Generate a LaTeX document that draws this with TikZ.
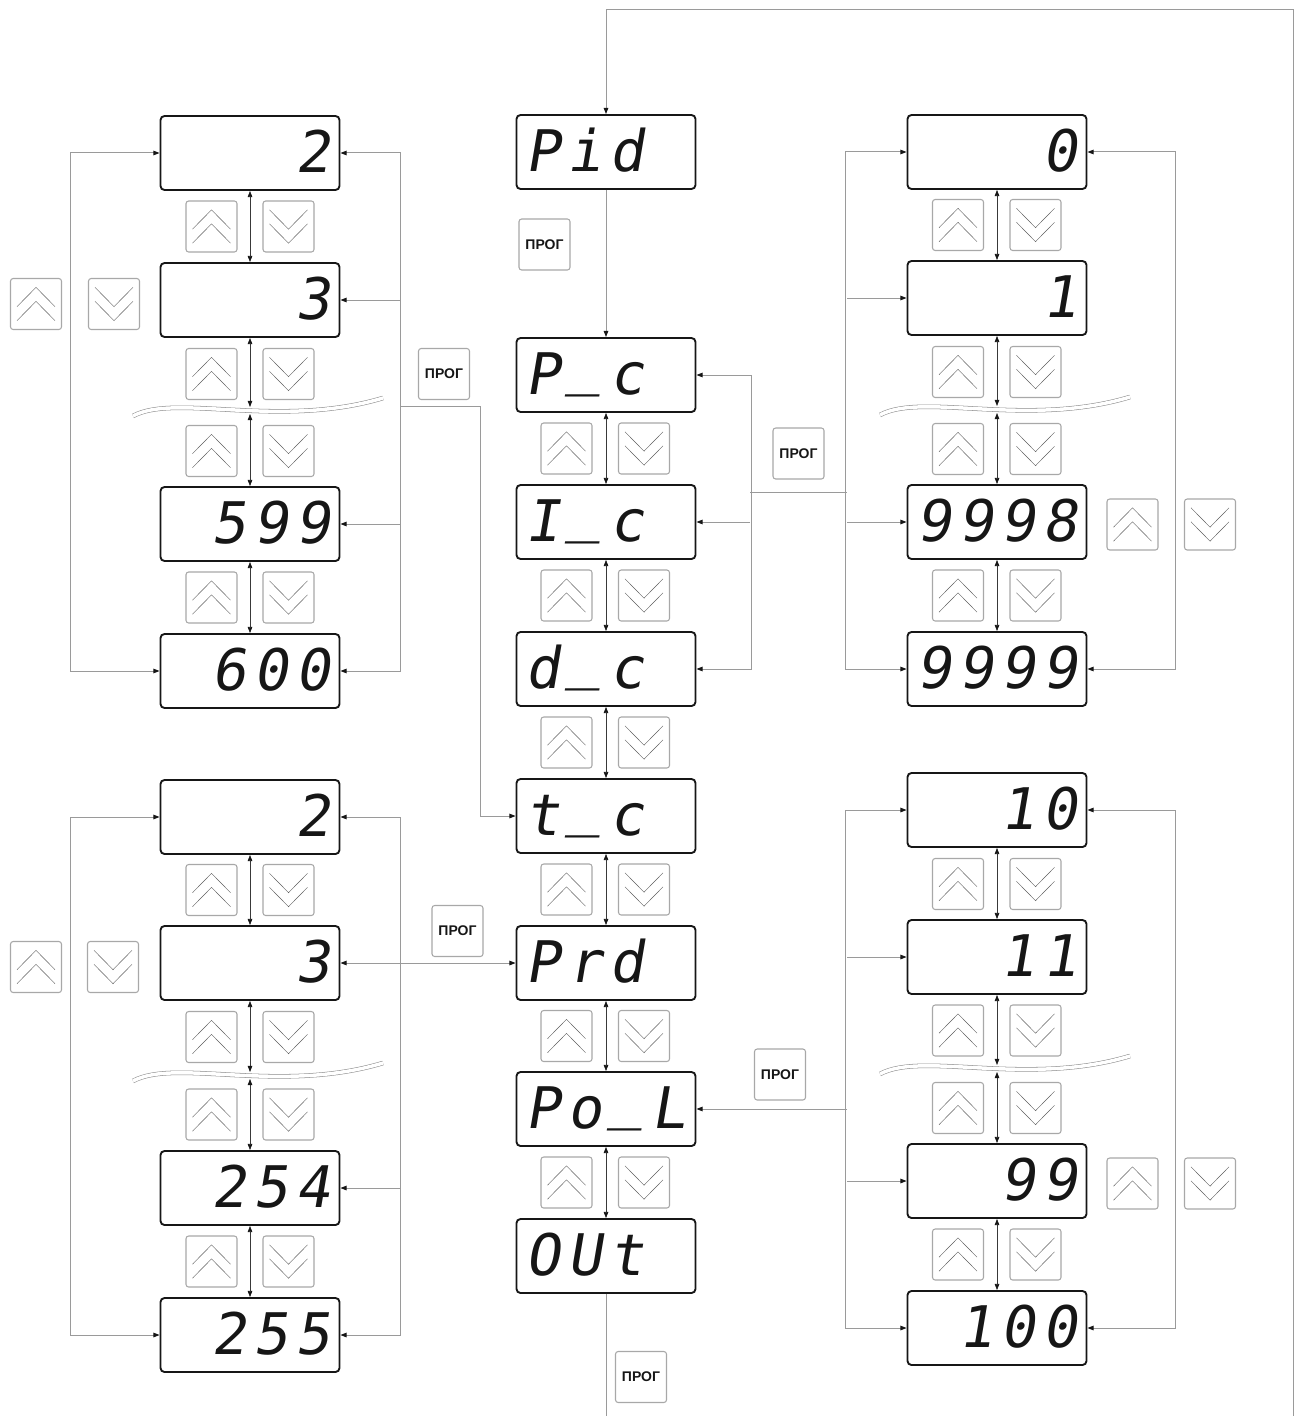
\documentclass[tikz,border=0pt]{standalone}
\usepackage{fontspec}
\usepackage{tikz}
\usetikzlibrary{calc,positioning,arrows.meta}
\newfontfamily\lcdfont{DejaVu Sans Mono}[FakeSlant=0.17]
\newfontfamily\keyfont{Liberation Sans}
\definecolor{Wire}{HTML}{9A9A9A}
\definecolor{Keyline}{HTML}{A8A8A8}
\definecolor{Ink}{HTML}{161616}
\newcommand\lcdtext[4]{\makebox[31.5pt]{#1}\makebox[31.5pt]{#2}\makebox[31.5pt]{#3}\makebox[31.5pt]{#4}}
\newcommand\lowbar{\raisebox{8.5pt}{\_}}
\tikzset{
  Arr/.tip={Triangle[length=4.6pt,width=3.4pt,color=Ink]},
  lcd/.style={draw=Ink,line width=1.4pt,rounded corners=3pt,minimum width=134.25pt,minimum height=55.5pt,
    inner sep=0pt,text height=32pt,text depth=3pt,text=Ink,font=\lcdfont\fontsize{43}{43}\selectfont},
  key/.style={draw=Keyline,line width=.8pt,rounded corners=2pt,minimum width=38.25pt,minimum height=38.25pt,inner sep=0pt},
  chev/.style={draw=Ink!70,line width=.35pt,sharp corners},
  upkey/.style={key,path picture={
    \draw[chev] ($(path picture bounding box.center)+(-14.25pt,-2pt)$) -- ++(14.25pt,14.5pt) -- ++(14.25pt,-14.5pt)
      ($(path picture bounding box.center)+(-14.25pt,-12.5pt)$) -- ++(14.25pt,14.5pt) -- ++(14.25pt,-14.5pt);}},
  downkey/.style={key,path picture={
    \draw[chev] ($(path picture bounding box.center)+(-14.25pt,12.5pt)$) -- ++(14.25pt,-14.5pt) -- ++(14.25pt,14.5pt)
      ($(path picture bounding box.center)+(-14.25pt,2pt)$) -- ++(14.25pt,-14.5pt) -- ++(14.25pt,14.5pt);}},
  progkey/.style={key,font=\keyfont\bfseries\fontsize{10.5}{11}\selectfont,text=Ink},
  link/.style={draw=Wire,line width=.75pt},
  updown/.style={draw=Ink!85,line width=.5pt,Arr-Arr},
  wave/.style={draw=Ink!50,line width=.4pt,double=white,double distance=2.6pt}
}
\begin{document}
\begin{tikzpicture}[x=.75pt,y=-.75pt]
\useasboundingbox (0,0) rectangle (1302,1416);
\node[lcd] (ua2) at (250,153) {\lcdtext{}{}{}{2}};
\node[lcd] (ua3) at (250,300) {\lcdtext{}{}{}{3}};
\node[lcd] (ua599) at (250,524) {\lcdtext{}{5}{9}{9}};
\node[lcd] (ua600) at (250,671) {\lcdtext{}{6}{0}{0}};
\node[lcd] (la2) at (250,817) {\lcdtext{}{}{}{2}};
\node[lcd] (la3) at (250,963) {\lcdtext{}{}{}{3}};
\node[lcd] (la254) at (250,1188) {\lcdtext{}{2}{5}{4}};
\node[lcd] (la255) at (250,1335) {\lcdtext{}{2}{5}{5}};
\node[lcd] (pid) at (606,152) {\lcdtext{P}{i}{d}{}};
\node[lcd] (pc) at (606,375) {\lcdtext{P}{\lowbar}{c}{}};
\node[lcd] (ic) at (606,522) {\lcdtext{I}{\lowbar}{c}{}};
\node[lcd] (dc) at (606,669) {\lcdtext{d}{\lowbar}{c}{}};
\node[lcd] (tc) at (606,816) {\lcdtext{t}{\lowbar}{c}{}};
\node[lcd] (prd) at (606,963) {\lcdtext{P}{r}{d}{}};
\node[lcd] (pol) at (606,1109) {\lcdtext{P}{o}{\lowbar}{L}};
\node[lcd] (out) at (606,1256) {\lcdtext{O}{U}{t}{}};
\node[lcd] (r0) at (997,152) {\lcdtext{}{}{}{0}};
\node[lcd] (r1) at (997,298) {\lcdtext{}{}{}{1}};
\node[lcd] (r9998) at (997,522) {\lcdtext{9}{9}{9}{8}};
\node[lcd] (r9999) at (997,669) {\lcdtext{9}{9}{9}{9}};
\node[lcd] (r10) at (997,810) {\lcdtext{}{}{1}{0}};
\node[lcd] (r11) at (997,957) {\lcdtext{}{}{1}{1}};
\node[lcd] (r99) at (997,1181) {\lcdtext{}{}{9}{9}};
\node[lcd] (r100) at (997,1328) {\lcdtext{}{1}{0}{0}};
\foreach \y [count=\i] in {226.5,374,451,597.5,890,1037,1114.5,1261.5}{
  \node[upkey] (lku\i) at (211.5,\y) {};
  \node[downkey] (lkd\i) at (288.5,\y) {};
}
\foreach \y [count=\i] in {448.5,595.5,742.5,889.5,1036,1182.5}{
  \node[upkey] (mku\i) at (566.5,\y) {};
  \node[downkey] (mkd\i) at (644,\y) {};
}
\foreach \y [count=\i] in {225,372,449,595.5,884,1030.5,1108,1254.5}{
  \node[upkey] (rku\i) at (958,\y) {};
  \node[downkey] (rkd\i) at (1035.5,\y) {};
}
\node[upkey] (sideu1) at (36,304) {};
\node[downkey] (sided1) at (114,304) {};
\node[upkey] (sideu2) at (36,967) {};
\node[downkey] (sided2) at (113,967) {};
\node[upkey] (sideu3) at (1132.5,524.5) {};
\node[downkey] (sided3) at (1210,524.5) {};
\node[upkey] (sideu4) at (1132.5,1183.5) {};
\node[downkey] (sided4) at (1210,1183.5) {};
\node[progkey] (kpid) at (544.5,244.5) {ПРОГ};
\node[progkey] (kua) at (444,374) {ПРОГ};
\node[progkey] (kpc) at (798.5,453.5) {ПРОГ};
\node[progkey] (kla) at (457.5,931) {ПРОГ};
\node[progkey] (kpol) at (780,1074.5) {ПРОГ};
\node[progkey] (kout) at (641,1377) {ПРОГ};
\foreach \n/\x/\y in {ul/250/407,ur/997/406,ll/250/1072,lr/997/1065}{
  \draw[wave] (\x-117,\y+9) .. controls (\x-75,\y-14) and (\x+30,\y+22) .. (\x+133,\y-9);
  \coordinate (\n-a) at (\x,\y);
  \coordinate (\n-b) at (\x,\y+7);
}
\foreach \a/\b in {ua2/ua3,ua3/ul-a,ul-b/ua599,ua599/ua600,la2/la3,la3/ll-a,ll-b/la254,la254/la255,
  r0/r1,r1/ur-a,ur-b/r9998,r9998/r9999,r10/r11,r11/lr-a,lr-b/r99,r99/r100,
  pc/ic,ic/dc,dc/tc,tc/prd,prd/pol,pol/out}
  \draw[updown] (\a) -- (\b);
\coordinate (loopbot) at (1293,1416);
\coordinate (looptop) at (1293,10);
\coordinate (ubus) at (400,406);
\coordinate (lbus) at (400,963);
\coordinate (mbus) at (750,492);
\coordinate (rbus) at (847,492);
\coordinate (pbus) at (847,1109);
\draw[link,-Arr] (loopbot) -- (looptop) -| (pid.north);
\draw[link,-Arr] (pid.south) -- (pc.north);
\draw[link] (out.south) -- (out.south |- loopbot);
\draw[link,Arr-Arr] (ua2.west) -- ++(-89,0) |- (ua600.west);
\draw[link,Arr-Arr] (ua2.east) -- ++(60,0) |- (ua600.east);
\draw[link,-Arr] (ubus |- ua3) -- (ua3.east);
\draw[link,-Arr] (ubus |- ua599) -- (ua599.east);
\draw[link,-Arr] (ubus) -- ++(80,0) |- (tc.west);
\draw[link,Arr-Arr] (la2.west) -- ++(-89,0) |- (la255.west);
\draw[link,Arr-Arr] (la2.east) -- ++(60,0) |- (la255.east);
\draw[link,-Arr] (lbus) -- (la3.east);
\draw[link,-Arr] (lbus |- la254) -- (la254.east);
\draw[link,-Arr] (lbus) -- (prd.west);
\draw[link,Arr-Arr] (pc.east) -- ++(55,0) |- (dc.east);
\draw[link,-Arr] (mbus |- ic) -- (ic.east);
\draw[link] (mbus) -- (rbus);
\draw[link,Arr-Arr] (r0.west) -- ++(-61,0) |- (r9999.west);
\draw[link,-Arr] (rbus |- r1) -- (r1.west);
\draw[link,-Arr] (rbus |- r9998) -- (r9998.west);
\draw[link,Arr-Arr] (r0.east) -- ++(88,0) |- (r9999.east);
\draw[link,Arr-Arr] (r10.west) -- ++(-61,0) |- (r100.west);
\draw[link,-Arr] (pbus |- r11) -- (r11.west);
\draw[link,-Arr] (pbus |- r99) -- (r99.west);
\draw[link,-Arr] (pbus) -- (pol.east);
\draw[link,Arr-Arr] (r10.east) -- ++(88,0) |- (r100.east);
\end{tikzpicture}
\end{document}
